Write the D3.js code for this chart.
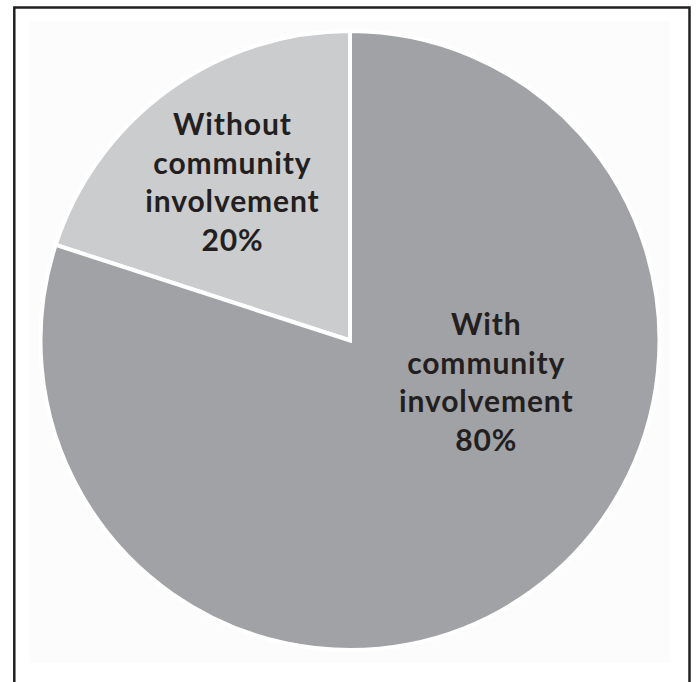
<!DOCTYPE html>
<html>
<head>
<meta charset="utf-8">
<script src="https://cdn.jsdelivr.net/npm/d3@7"></script>
<style>
  html, body { margin: 0; padding: 0; background: #ffffff; }
  svg { display: block; }
</style>
</head>
<body>
<svg id="chart" width="696" height="682"></svg>
<script>
// ---- data ----
const categories = ["Without community involvement", "With community involvement"];
const values = [20, 80];
const labelLines = [
  ["Without", "community", "involvement", "20%"],
  ["With", "community", "involvement", "80%"]
];
const colors = ["#cbccce", "#a1a2a5"];

// ---- layout ----
const svg = d3.select("#chart");
const cx = 350, cy = 340.5, R = 309.5;

// faint inner panel + frame
svg.append("rect").attr("x", 30).attr("y", 21).attr("width", 640).attr("height", 642)
  .attr("fill", "#fcfcfc");
svg.append("rect").attr("x", 14.3).attr("y", 7.5).attr("width", 675.2).attr("height", 700)
  .attr("fill", "none").attr("stroke", "#231f20").attr("stroke-width", 2.5);

const pie = d3.pie().sort(null).value(d => d)
  .startAngle(0).endAngle(-2 * Math.PI); // counter-clockwise from 12 o'clock
const arcs = pie(values);
const arc = d3.arc().innerRadius(0).outerRadius(R);

const g = svg.append("g").attr("transform", `translate(${cx},${cy})`);
g.selectAll("path.slice").data(arcs).enter().append("path")
  .attr("class", "slice")
  .attr("d", arc)
  .attr("fill", (d, i) => colors[i])
  .attr("stroke", "#ffffff")
  .attr("stroke-width", 4)
  .attr("stroke-linejoin", "miter");

// label anchor positions (polar offsets from centre, layout only)
const labelPos = [
  { angle: -38, r: 191, top: 135 - cy },
  { angle: 110, r: 145, top: 335 - cy }
];
const lineH = 38.7;

g.selectAll("text.lbl").data(arcs).enter().append("text")
  .attr("class", "lbl")
  .attr("text-anchor", "middle")
  .attr("font-family", "Lato, 'Open Sans', sans-serif")
  .attr("font-weight", "bold")
  .attr("font-size", 30)
  .attr("letter-spacing", "0.9px")
  .attr("fill", "#231f20")
  .each(function (d, i) {
    const p = labelPos[i];
    const a = p.angle * Math.PI / 180;
    const x = p.r * Math.sin(a);
    const t = d3.select(this);
    labelLines[i].forEach((line, k) => {
      t.append("tspan").attr("x", x).attr("y", p.top + k * lineH).text(line);
    });
  });
</script>
</body>
</html>
